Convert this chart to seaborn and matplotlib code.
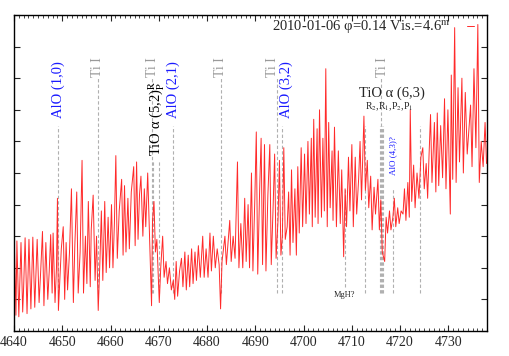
import matplotlib
matplotlib.use("Agg")
import matplotlib.pyplot as plt
import seaborn as sns
import pandas as pd

# spectrum (wavelength in Angstrom, flux in axis units 0..10)
wave = [
    4640.05, 4640.4, 4640.6, 4641.0, 4641.45, 4641.8, 4642.0, 4642.3, 4642.7, 4643.1,
    4643.5, 4643.9, 4644.3, 4644.8, 4645.2, 4645.5, 4645.9, 4646.2, 4646.6, 4647.0,
    4647.3, 4647.6, 4647.9, 4648.1, 4648.5, 4648.8, 4649.0, 4649.2, 4649.5,
    4649.8, 4650.2, 4650.5, 4650.8, 4651.1, 4651.5, 4651.9, 4652.3, 4652.6, 4653.0,
    4653.3, 4653.7, 4654.1, 4654.4, 4654.8, 4655.1, 4655.4, 4655.8, 4656.0, 4656.4,
    4656.8, 4657.1, 4657.45, 4657.8, 4658.1, 4658.4, 4658.8, 4659.1, 4659.5, 4659.8,
    4660.2, 4660.5, 4660.8, 4661.1, 4661.4, 4661.8, 4662.3, 4662.6, 4662.9, 4663.2,
    4663.6, 4663.9, 4664.3, 4664.8, 4665.1, 4665.4, 4665.7, 4666.0, 4666.3, 4666.7,
    4667.0, 4667.3, 4667.7, 4668.0, 4668.5, 4668.7, 4669.0, 4669.3, 4669.6, 4670.1,
    4670.4, 4670.8, 4671.1, 4671.5, 4671.8, 4672.2, 4672.6, 4673.0, 4673.3, 4673.6,
    4673.9, 4674.3, 4674.7, 4675.0, 4675.4, 4675.7, 4676.1, 4676.4, 4676.8, 4677.1,
    4677.5, 4677.8, 4678.2, 4678.6, 4679.1, 4679.4, 4679.8, 4680.2, 4680.6, 4680.9,
    4681.3, 4681.7, 4682.1, 4682.5, 4682.8, 4683.1, 4683.7, 4684.0, 4684.4, 4684.7,
    4685.0, 4685.4, 4685.8, 4686.3, 4686.6, 4687.0, 4687.4, 4687.8, 4688.1, 4688.5,
    4688.8, 4689.2, 4689.5, 4689.9, 4690.2, 4690.5, 4690.9, 4691.2, 4691.5, 4691.9,
    4692.2, 4692.6, 4693.0, 4693.3, 4693.7, 4694.0, 4694.3, 4694.7,
    4695.0, 4695.3, 4695.6, 4695.9, 4696.2, 4696.6, 4696.9, 4697.2, 4697.5, 4697.8,
    4698.2, 4698.5, 4698.8, 4699.1, 4699.5, 4699.8, 4700.2, 4700.5, 4700.9, 4701.2,
    4701.6, 4701.8, 4702.1, 4702.4, 4702.8, 4703.0, 4703.3, 4703.7, 4704.0, 4704.3,
    4704.6, 4704.9, 4705.2, 4705.5, 4705.9, 4706.1, 4706.4, 4706.8, 4707.2, 4707.6,
    4707.9, 4708.3, 4708.6, 4708.9, 4709.3, 4709.6, 4710.0, 4710.3, 4710.7, 4711.0,
    4711.4, 4711.7, 4712.0, 4712.5, 4712.8, 4713.2, 4713.5, 4713.9, 4714.2, 4714.6,
    4714.9, 4715.4, 4715.7, 4716.0, 4716.3, 4716.8, 4717.1,
    4717.4, 4717.8, 4718.1, 4718.5, 4718.8, 4719.1, 4719.5, 4719.8, 4720.2, 4720.6,
    4720.9, 4721.2, 4721.6, 4721.9, 4722.1, 4722.4, 4722.8, 4723.1, 4723.5, 4723.9,
    4724.3, 4724.7, 4725.0, 4725.4, 4725.7, 4726.0, 4726.3, 4726.6, 4727.1, 4727.4,
    4727.7, 4728.0, 4728.4, 4728.8, 4729.2, 4729.5, 4729.9, 4730.4, 4730.6, 4730.9,
    4731.3, 4731.6, 4732.0, 4732.3, 4732.8, 4733.1, 4733.5, 4733.9, 4734.3, 4734.6,
    4734.9, 4735.3, 4735.7, 4736.1, 4736.4, 4736.8, 4737.2, 4737.6, 4737.9,
]
flux = [
    2.9, 0.5, 2.85, 0.45, 2.8, 0.6, 1.4, 2.95, 0.55, 2.9,
    0.7, 2.97, 0.75, 2.9, 0.9, 1.8, 3.15, 0.8, 2.8, 1.0,
    1.9, 3.05, 1.2, 3.1, 0.9, 2.0, 4.2, 0.65, 1.6,
    2.6, 3.3, 1.0, 2.8, 1.3, 2.5, 4.5, 0.9, 2.7, 4.4,
    1.2, 2.5, 5.4, 1.2, 3.0, 1.5, 4.1, 1.4, 3.2, 4.3,
    1.6, 3.0, 0.65, 2.2, 3.8, 1.6, 4.1, 1.85, 3.6, 2.0,
    4.0, 2.0, 3.4, 5.55, 2.3, 3.8, 4.8, 2.4, 4.6, 2.5,
    4.2, 2.6, 4.4, 5.2, 2.7, 5.35, 2.9, 4.3, 4.9, 3.0,
    4.5, 3.3, 5.0, 3.4, 0.8, 3.5, 4.1, 2.5, 2.9, 0.9,
    2.0, 3.0, 1.7, 2.2, 1.5, 2.0, 1.3, 1.6, 1.0, 2.2,
    1.1, 1.9, 2.3, 1.4, 2.5, 1.3, 2.4, 1.4, 2.6, 1.5,
    2.5, 1.6, 2.7, 1.7, 3.0, 1.7, 2.6, 1.7, 3.1, 1.9,
    3.0, 2.0, 2.6, 2.1, 0.7, 2.2, 3.0, 2.1, 2.9, 3.5,
    2.2, 3.0, 2.3, 5.35, 2.0, 3.4, 2.0, 4.2, 2.2, 4.0,
    2.0, 5.0, 1.9, 4.2, 6.3, 1.8, 4.5, 6.1, 2.1, 5.9,
    1.9, 4.3, 5.9, 2.1, 4.0, 5.6, 2.3, 3.5,
    5.4, 2.4, 3.0, 5.8, 2.9, 3.3, 4.4, 2.4, 5.1, 2.8,
    4.5, 2.4, 5.2, 3.1, 5.8, 3.3, 5.6, 3.4, 6.0, 3.7,
    6.1, 3.3, 6.7, 3.6, 6.4, 3.4, 7.0, 3.6, 6.1, 3.8,
    8.3, 3.3, 6.6, 3.9, 5.7, 3.5, 6.45, 3.3, 5.7, 3.4,
    5.1, 2.35, 4.5, 3.3, 5.5, 3.8, 5.9, 3.3, 5.5, 3.7,
    4.8, 6.0, 4.15, 6.8, 4.45, 5.4, 3.9, 4.9, 3.2, 4.55,
    3.7, 4.8, 3.2, 4.15, 2.5, 2.2, 3.6,
    3.1, 3.8, 3.2, 3.6, 4.2, 3.3, 3.9, 3.4, 3.8, 3.7,
    4.5, 3.5, 4.7, 3.6, 7.0, 4.1, 5.25, 3.9, 5.0, 4.2,
    5.5, 5.8, 4.5, 5.3, 4.2, 5.6, 6.85, 4.7, 6.6, 4.4,
    6.9, 4.6, 6.5, 4.85, 7.35, 4.5, 7.0, 3.7, 8.1, 4.8,
    9.6, 4.7, 7.7, 5.35, 8.0, 5.0, 7.55, 5.6, 6.5, 7.15,
    5.2, 8.3, 5.8, 9.7, 4.7, 6.0, 5.2, 6.6, 5.3,
]

# line identifications: position, top and bottom of the dashed marker
mark_wave = [4649.2, 4657.4, 4668.6, 4668.9, 4670.0, 4673.0, 4682.8, 4694.5, 4695.6,
             4708.5, 4712.8, 4715.9, 4716.05, 4716.2, 4716.35, 4718.6, 4724.1]
mark_top = [6.5, 8.0, 8.0, 5.4, 5.4, 6.5, 8.0, 8.0, 6.5,
            4.5, 6.5, 6.5, 8.0, 6.5, 6.5, 4.5, 6.5]
mark_bottom = [1.2, 1.2, 1.2, 1.2, 1.2, 1.2, 1.2, 1.2, 1.2,
               1.4, 1.2, 1.2, 1.2, 1.2, 1.2, 1.2, 1.2]

label = "2010-01-06 φ=0.14 Vis.=4.6$^{\\mathrm{m}}$"

df = pd.DataFrame({"wave": wave, "flux": flux})

sns.set_style("ticks")
plt.rcParams["font.family"] = ["Liberation Serif", "DejaVu Serif"]
plt.rcParams["mathtext.fontset"] = "stix"

fig = plt.figure(figsize=(5.09, 3.56), dpi=100)
ax = fig.add_axes([14 / 509, 1 - 331 / 356, 473 / 509, 316 / 356])

for x, t, b in zip(mark_wave, mark_top, mark_bottom):
    ax.plot([x, x], [b, t], color="#b0b0b0", lw=0.8, dashes=(3, 2), zorder=1)

sns.lineplot(data=df, x="wave", y="flux", sort=False, estimator=None,
             color="#ff2a2a", lw=0.7, label=label, ax=ax, zorder=2)

grey = "#999999"
blue = "#1a1aff"
for x in [4657.4, 4668.6, 4682.8, 4693.6, 4716.3]:
    ax.text(x, 8.05, "Ti I", rotation=90, ha="center", va="bottom", fontsize=10, color=grey)
for x, s in [(4649.2, "AlO (1,0)"), (4673.0, "AlO (2,1)"), (4696.4, "AlO (3,2)")]:
    ax.text(x, 6.75, s, rotation=90, ha="center", va="bottom", fontsize=10.5, color=blue)
ax.text(4669.6, 5.55, "TiO α (5,2)$^{\\mathrm{R}}_{\\mathrm{P}}$", rotation=90,
        ha="center", va="bottom", fontsize=10.5, color="black")
ax.text(4718.3, 7.53, "TiO α (6,3)", ha="center", va="center", fontsize=10.5)
ax.text(4717.8, 7.08, "R$_2$,R$_1$,P$_2$,P$_1$", ha="center", va="center", fontsize=7)
ax.text(4718.6, 4.95, "AlO (4,3)?", rotation=90, ha="center", va="bottom",
        fontsize=6.5, color=blue)
ax.text(4708.5, 1.14, "MgH?", ha="center", va="center", fontsize=6)

ax.set_xlim(4640, 4738)
ax.set_ylim(0, 10)
ax.set_xticks(range(4640, 4740, 10))
ax.set_xticks(range(4640, 4739, 1), minor=True)
ax.set_yticks(range(0, 11))
ax.set_yticklabels([])
ax.tick_params(which="both", direction="in", top=True, right=True, labelsize=10)
ax.tick_params(which="major", length=4)
ax.tick_params(which="minor", length=2)
for sp in ax.spines.values():
    sp.set_linewidth(1.0)
    sp.set_color("black")
ax.set_xlabel("")
ax.set_ylabel("")

ax.legend(loc="center right", bbox_to_anchor=(474 / 509, 1 - 27 / 356),
          bbox_transform=fig.transFigure, frameon=False, markerfirst=False,
          handlelength=0.5, handletextpad=1.1, borderpad=0, borderaxespad=0,
          fontsize=10.5)

fig.savefig("out.png", dpi=100)
